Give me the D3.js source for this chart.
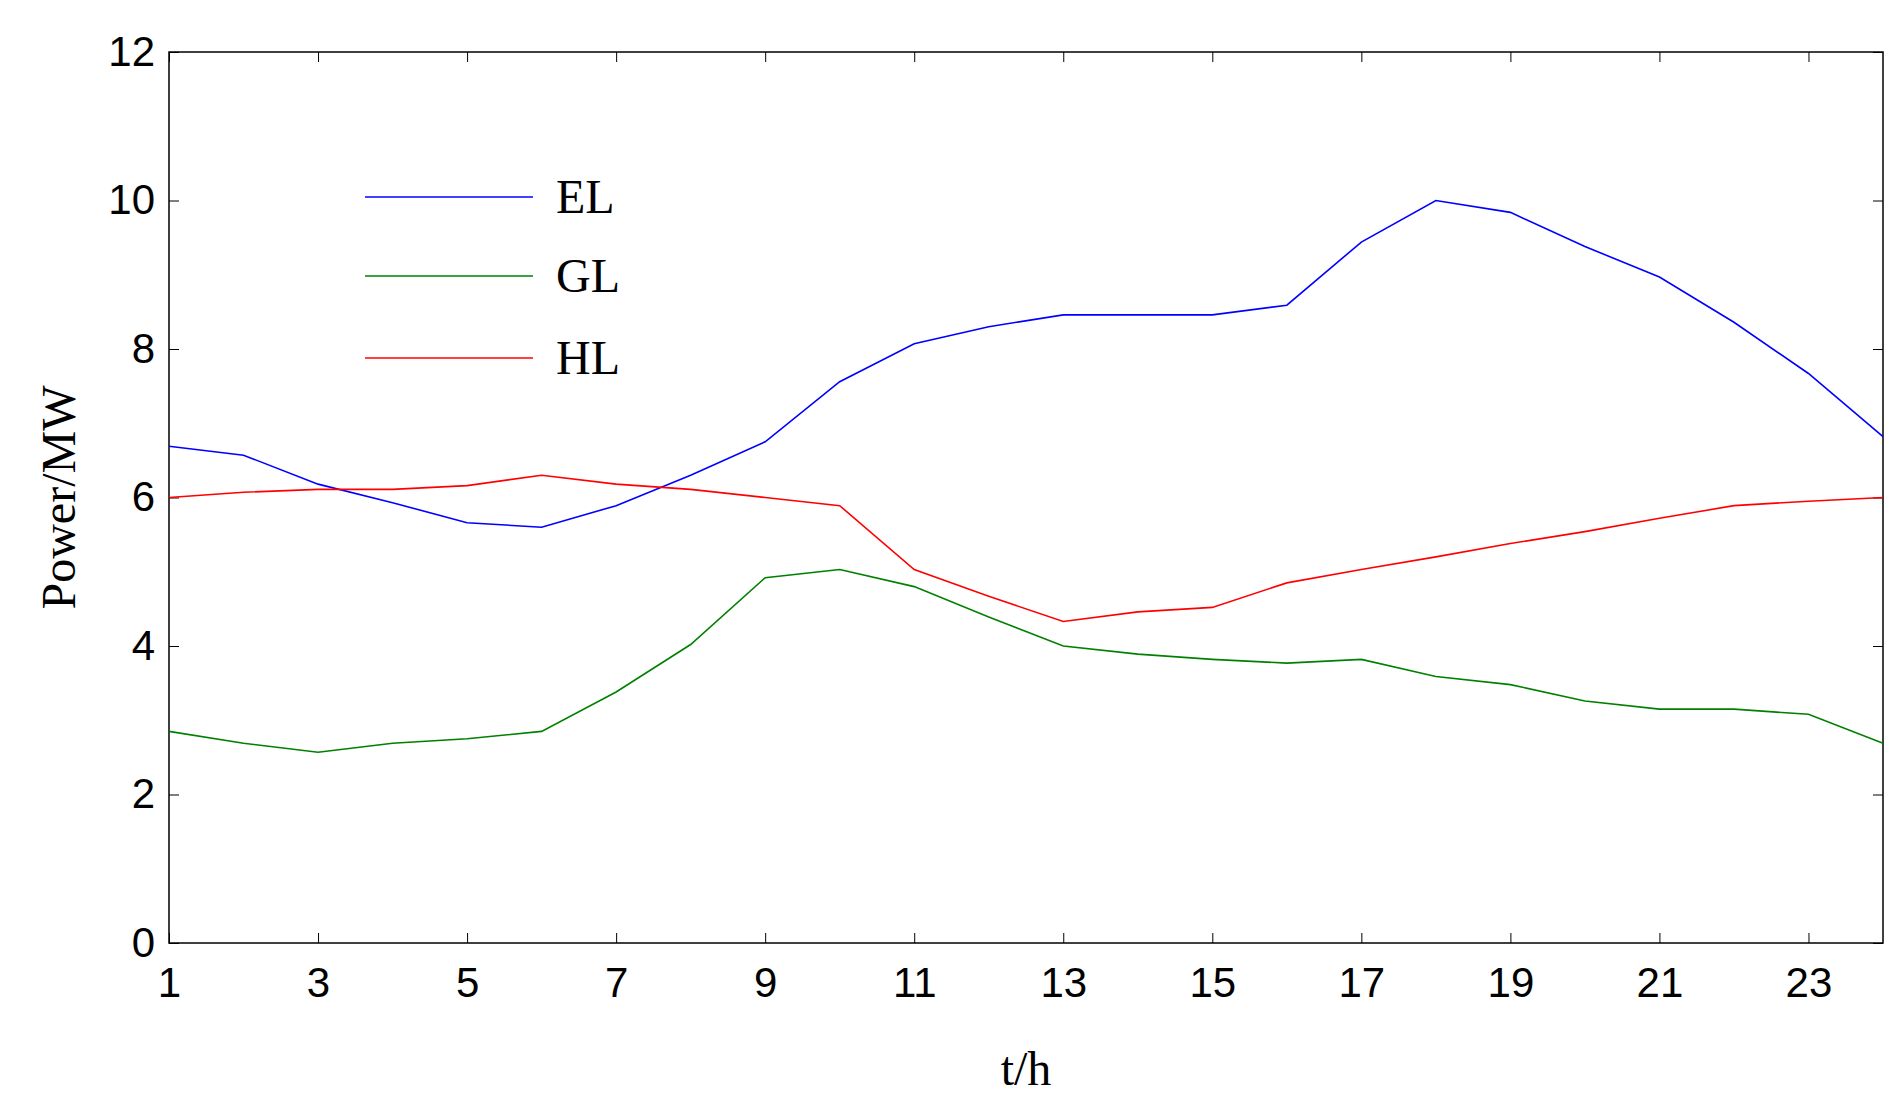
<!DOCTYPE html><html><head><meta charset="utf-8"><script src="https://cdn.jsdelivr.net/npm/d3@7"></script>
<style>body{margin:0;background:#fff}</style></head><body><svg id="c" width="1899" height="1106"></svg>
<script>
const hours = d3.range(1,25);
const EL = [6.69,6.57,6.18,5.93,5.66,5.6,5.89,6.3,6.75,7.56,8.07,8.3,8.46,8.46,8.46,8.59,9.44,10.0,9.84,9.38,8.97,8.36,7.67,6.82];
const GL = [2.85,2.69,2.57,2.69,2.75,2.85,3.38,4.02,4.92,5.03,4.8,4.39,4.0,3.89,3.82,3.77,3.82,3.59,3.48,3.26,3.15,3.15,3.08,2.69];
const HL = [6.0,6.07,6.11,6.11,6.16,6.3,6.18,6.11,6.0,5.89,5.03,4.67,4.33,4.46,4.52,4.85,5.03,5.2,5.38,5.54,5.72,5.89,5.95,6.0];
const xTicks = [1,3,5,7,9,11,13,15,17,19,21,23];
const yTicks = [0,2,4,6,8,10,12];
const series = [{name:"EL",v:EL,c:"#0000ff"},{name:"GL",v:GL,c:"#008000"},{name:"HL",v:HL,c:"#ff0000"}];

const L=169,R=1883,T=52,B=943;
const svg=d3.select("#c");
const x=d3.scaleLinear().domain([1,24]).range([L,R]);
const y=d3.scaleLinear().domain([0,12]).range([B,T]);
const tf="'Liberation Sans',Arial,sans-serif";
svg.append("rect").attr("x",L).attr("y",T).attr("width",R-L).attr("height",B-T).attr("fill","none").attr("stroke","#000").attr("stroke-width",1.5);
const gx=svg.append("g").attr("transform",`translate(0,${B})`).call(d3.axisBottom(x).tickValues(xTicks).tickSizeInner(-10).tickSizeOuter(0).tickPadding(24));
const gy=svg.append("g").attr("transform",`translate(${L},0)`).call(d3.axisLeft(y).tickValues(yTicks).tickSizeInner(-10).tickSizeOuter(0).tickPadding(14));
svg.append("g").attr("transform",`translate(0,${T})`).call(d3.axisTop(x).tickValues(xTicks).tickSizeInner(-10).tickSizeOuter(0).tickFormat(""));
svg.append("g").attr("transform",`translate(${R},0)`).call(d3.axisRight(y).tickValues(yTicks).tickSizeInner(-10).tickSizeOuter(0).tickFormat(""));
svg.selectAll(".domain").remove();
[gx,gy].forEach(g=>g.selectAll("text").attr("font-family",tf).attr("font-size",42).attr("fill","#000"));
gx.selectAll("text").attr("dy","0.71em");
const line=d3.line().x((d,i)=>x(hours[i])).y(d=>y(d));
series.forEach(s=>svg.append("path").attr("d",line(s.v)).attr("fill","none").attr("stroke",s.c).attr("stroke-width",1.6));
const sf="'Liberation Serif','Times New Roman',serif";
svg.append("text").attr("x",(L+R)/2).attr("y",1085).attr("text-anchor","middle").attr("font-family",sf).attr("font-size",48).text("t/h");
svg.append("text").attr("transform",`translate(75,${(T+B)/2}) rotate(-90)`).attr("text-anchor","middle").attr("font-family",sf).attr("font-size",48).text("Power/MW");
const ly=[197,276,358];
series.forEach((s,i)=>{
 svg.append("line").attr("x1",365).attr("x2",533).attr("y1",ly[i]).attr("y2",ly[i]).attr("stroke",s.c).attr("stroke-width",1.6);
 svg.append("text").attr("x",556).attr("y",ly[i]+16).attr("font-family",sf).attr("font-size",48).text(s.name);
});
</script></body></html>
